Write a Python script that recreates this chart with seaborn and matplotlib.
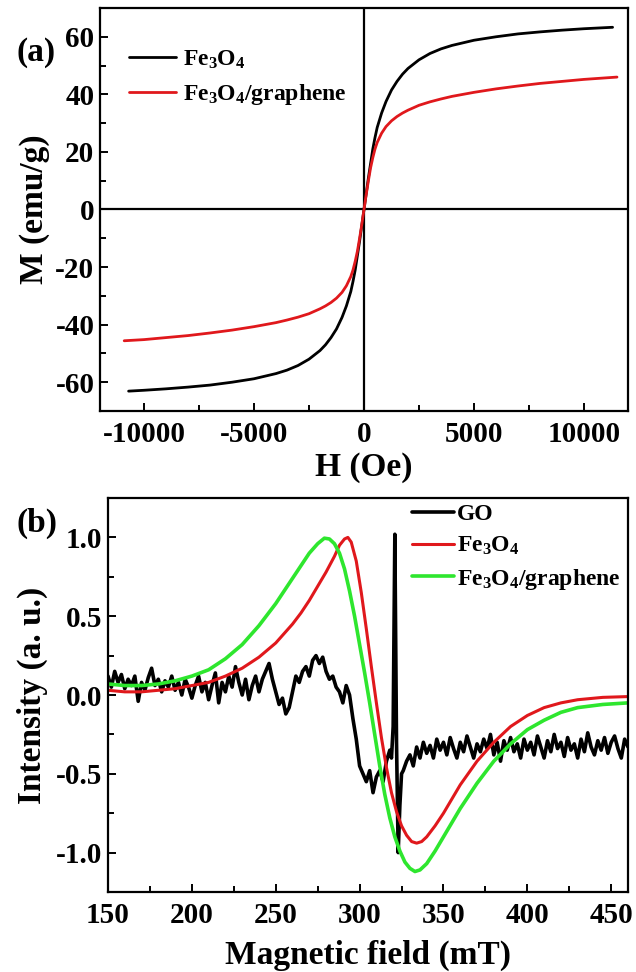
import numpy as np
import pandas as pd
import matplotlib
matplotlib.use("Agg")
import matplotlib.pyplot as plt
from matplotlib.ticker import MultipleLocator
import seaborn as sns

# ---------------- data: panel (a) hysteresis ----------------
h_fe3o4 = [-10700, -10000, -9000, -8000, -7000, -6000, -5000, -4000, -3500, -3000,
           -2500, -2000, -1750, -1500, -1250, -1000, -800, -600, -500, -400, -300,
           -200, -100, 0, 100, 200, 300, 400, 500, 600, 800, 1000, 1250, 1500, 1750,
           2000, 2500, 3000, 3500, 4000, 5000, 6000, 7000, 8000, 9000, 10000, 11300]
m_fe3o4 = [-63.1, -62.8, -62.3, -61.7, -61.0, -60.0, -58.8, -57.0, -55.8, -54.2,
           -52.0, -49.0, -47.0, -44.5, -41.5, -37.5, -33.5, -28.5, -25.0, -21.0, -16.0,
           -11.0, -5.5, 0.0, 5.5, 11.0, 16.0, 21.0, 25.0, 28.5, 33.5, 37.5, 41.5, 44.5,
           47.0, 49.0, 52.0, 54.2, 55.8, 57.0, 58.8, 60.0, 61.0, 61.7, 62.3, 62.8, 63.3]
h_comp = [-10900, -10000, -9000, -8000, -7000, -6000, -5000, -4000, -3500, -3000,
          -2500, -2000, -1750, -1500, -1250, -1000, -800, -600, -500, -400, -300,
          -200, -100, 0, 100, 200, 300, 400, 500, 600, 800, 1000, 1250, 1500, 1750,
          2000, 2500, 3000, 3500, 4000, 5000, 6000, 7000, 8000, 9000, 10000, 11500]
m_comp = [-45.6, -45.2, -44.5, -43.8, -42.9, -41.9, -40.7, -39.3, -38.4, -37.4,
          -36.2, -34.5, -33.5, -32.3, -30.8, -28.8, -26.5, -23.3, -21.0, -18.0, -14.5,
          -10.0, -5.2, 0.0, 5.2, 10.0, 14.5, 18.0, 21.0, 23.3, 26.5, 28.8, 30.8, 32.3,
          33.5, 34.5, 36.2, 37.4, 38.4, 39.3, 40.7, 41.9, 42.9, 43.8, 44.5, 45.2, 46.0]

# ---------------- data: panel (b) EPR ----------------
go_field_a = np.arange(150, 317, 2)
go_int_a = [0.12, 0.05, 0.15, 0.08, 0.13, 0.04, 0.10, 0.06, 0.12, -0.04,
            0.08, 0.03, 0.11, 0.17, 0.06, 0.10, 0.02, 0.09, 0.05, 0.12,
            0.03, 0.08, 0.00, 0.10, 0.05, -0.02, 0.06, 0.12, 0.02, 0.08,
            -0.03, 0.06, 0.14, -0.05, 0.08, 0.02, 0.12, 0.05, 0.18, 0.08,
            0.00, 0.10, -0.03, 0.06, 0.12, 0.02, 0.10, 0.15, 0.20, 0.10,
            0.02, -0.06, -0.02, -0.12, -0.08, 0.02, 0.12, 0.08, 0.15, 0.18,
            0.12, 0.22, 0.25, 0.20, 0.24, 0.15, 0.10, 0.12, 0.05, 0.02,
            -0.05, 0.06, 0.00, -0.15, -0.28, -0.45, -0.50, -0.55, -0.48, -0.62,
            -0.52, -0.48, -0.55, -0.42]
go_field_b = [318, 319, 320, 321, 322, 323, 324, 325]
go_int_b = [-0.35, -0.40, -0.20, 1.02, -0.30, -1.00, -0.70, -0.50]
go_field_c = np.arange(326, 461, 2)
go_int_c = [-0.48, -0.42, -0.38, -0.45, -0.33, -0.40, -0.30, -0.37,
            -0.32, -0.40, -0.28, -0.35, -0.30, -0.38, -0.27, -0.34, -0.40, -0.30,
            -0.36, -0.26, -0.33, -0.40, -0.31, -0.36, -0.28, -0.34, -0.25, -0.38,
            -0.30, -0.42, -0.29, -0.35, -0.27, -0.36, -0.31, -0.40, -0.28, -0.35,
            -0.30, -0.38, -0.26, -0.33, -0.40, -0.29, -0.36, -0.25, -0.34, -0.30,
            -0.39, -0.27, -0.35, -0.31, -0.40, -0.28, -0.36, -0.24, -0.33, -0.38,
            -0.29, -0.35, -0.27, -0.37, -0.30, -0.26, -0.34, -0.40, -0.28, -0.33]

fe_field = [150, 160, 170, 180, 190, 200, 210, 220, 230, 240, 250, 260, 265, 270, 275,
            280, 285, 288, 291, 293, 295, 298, 301, 304, 307, 310, 313, 316, 319, 322,
            325, 328, 331, 334, 337, 340, 345, 350, 355, 360, 370, 380, 390, 400, 410,
            420, 430, 445, 460]
fe_int = [0.03, 0.02, 0.02, 0.03, 0.04, 0.06, 0.08, 0.12, 0.17, 0.24, 0.33, 0.45, 0.52,
          0.60, 0.69, 0.78, 0.88, 0.95, 0.99, 1.00, 0.97, 0.85, 0.65, 0.42, 0.18, -0.05,
          -0.27, -0.46, -0.62, -0.74, -0.83, -0.89, -0.93, -0.94, -0.93, -0.90, -0.83,
          -0.75, -0.66, -0.57, -0.42, -0.30, -0.20, -0.13, -0.08, -0.05, -0.03, -0.015,
          -0.01]
fg_field = [150, 160, 170, 180, 190, 200, 210, 220, 230, 240, 250, 255, 260, 265, 270,
            275, 279, 282, 285, 288, 291, 294, 297, 300, 303, 306, 309, 312, 315, 318,
            321, 324, 327, 330, 333, 336, 340, 345, 350, 355, 360, 370, 380, 390, 400,
            410, 420, 430, 445, 460]
fg_int = [0.07, 0.06, 0.06, 0.07, 0.09, 0.12, 0.16, 0.23, 0.32, 0.44, 0.58, 0.66, 0.74,
          0.82, 0.90, 0.96, 0.995, 0.99, 0.96, 0.90, 0.80, 0.66, 0.50, 0.32, 0.14, -0.05,
          -0.25, -0.45, -0.63, -0.78, -0.90, -0.99, -1.06, -1.10, -1.12, -1.11, -1.07,
          -0.99, -0.90, -0.81, -0.72, -0.56, -0.42, -0.31, -0.22, -0.16, -0.11, -0.08,
          -0.06, -0.05]

lab_fe = "Fe$_3$O$_4$"
lab_fg = "Fe$_3$O$_4$/graphene"

# ---------------- style ----------------
sns.set_theme(style="ticks")
plt.rcParams["font.family"] = ["Liberation Serif", "DejaVu Serif"]
plt.rcParams["font.weight"] = "bold"
plt.rcParams["mathtext.fontset"] = "custom"
plt.rcParams["mathtext.rm"] = "Liberation Serif:bold"
plt.rcParams["mathtext.it"] = "Liberation Serif:bold:italic"
plt.rcParams["mathtext.bf"] = "Liberation Serif:bold"
plt.rcParams["axes.unicode_minus"] = False
for key in ("text.color", "axes.labelcolor", "xtick.color", "ytick.color",
            "axes.edgecolor"):
    plt.rcParams[key] = "black"
plt.rcParams["axes.linewidth"] = 1.6

W, H = 636, 972
fig = plt.figure(figsize=(W / 100, H / 100), dpi=100)
fig.patch.set_facecolor("white")

def frac(l, t, r, b):
    return [l / W, 1 - b / H, (r - l) / W, (b - t) / H]

ax1 = fig.add_axes(frac(100, 8, 628, 411))
ax2 = fig.add_axes(frac(108, 498, 628, 892))

RED = "#e0181c"
GREEN = "#2ee62e"

# panel (a)
df_a1 = pd.DataFrame({"H": h_fe3o4, "M": m_fe3o4})
df_a2 = pd.DataFrame({"H": h_comp, "M": m_comp})
sns.lineplot(data=df_a1, x="H", y="M", ax=ax1, color="black", lw=2.0,
             sort=False, estimator=None, label=lab_fe)
sns.lineplot(data=df_a2, x="H", y="M", ax=ax1, color=RED, lw=2.0,
             sort=False, estimator=None, label=lab_fg)
ax1.axhline(0, color="black", lw=1.6, zorder=0)
ax1.axvline(0, color="black", lw=1.6, zorder=0)
ax1.set_xlim(-12000, 12000)
ax1.set_ylim(-70, 70)
ax1.xaxis.set_major_locator(MultipleLocator(5000))
ax1.xaxis.set_minor_locator(MultipleLocator(2500))
ax1.yaxis.set_major_locator(MultipleLocator(20))
ax1.yaxis.set_minor_locator(MultipleLocator(10))
ax1.set_xlabel("H (Oe)", fontsize=24, fontweight="bold", labelpad=3)
ax1.set_ylabel("M (emu/g)", fontsize=24, fontweight="bold", labelpad=4)

# panel (b)
go_field = np.concatenate([go_field_a, go_field_b, go_field_c])
go_int = np.concatenate([go_int_a, go_int_b, go_int_c])
df_go = pd.DataFrame({"B": go_field, "I": go_int})
df_fe = pd.DataFrame({"B": fe_field, "I": fe_int})
df_fg = pd.DataFrame({"B": fg_field, "I": fg_int})
sns.lineplot(data=df_go, x="B", y="I", ax=ax2, color="black", lw=2.6,
             sort=False, estimator=None, label="GO")
sns.lineplot(data=df_fe, x="B", y="I", ax=ax2, color=RED, lw=2.2,
             sort=False, estimator=None, label=lab_fe)
sns.lineplot(data=df_fg, x="B", y="I", ax=ax2, color=GREEN, lw=2.6,
             sort=False, estimator=None, label=lab_fg)
ax2.set_xlim(150, 460)
ax2.set_ylim(-1.25, 1.25)
ax2.xaxis.set_major_locator(MultipleLocator(50))
ax2.xaxis.set_minor_locator(MultipleLocator(25))
ax2.yaxis.set_major_locator(MultipleLocator(0.5))
ax2.yaxis.set_minor_locator(MultipleLocator(0.25))
ax2.set_xlabel("Magnetic field (mT)", fontsize=24, fontweight="bold", labelpad=8)
ax2.set_ylabel("Intensity (a. u.)", fontsize=24, fontweight="bold", labelpad=6)

for ax in (ax1, ax2):
    for s in ax.spines.values():
        s.set_visible(True)
        s.set_linewidth(1.6)
        s.set_color("black")
    ax.tick_params(which="both", direction="in", top=False, right=False,
                   labelsize=21, width=1.4, color="black", labelcolor="black")
    ax.tick_params(axis="x", which="both", pad=7)
    ax.tick_params(axis="y", which="both", pad=4)
    ax.tick_params(which="major", length=6)
    ax.tick_params(which="minor", length=4)
    for t in ax.get_xticklabels() + ax.get_yticklabels():
        t.set_fontweight("bold")

ax1.legend(loc="upper left", bbox_to_anchor=(0.055, 0.9), frameon=False,
           fontsize=17, handlelength=2.0, handletextpad=0.3, labelspacing=0.5,
           borderaxespad=0, borderpad=0)
ax2.legend(loc="upper left", bbox_to_anchor=(0.585, 0.985), frameon=False,
           fontsize=17, handlelength=1.75, handletextpad=0.15, labelspacing=0.4,
           borderaxespad=0, borderpad=0)

fig.text(17 / W, 1 - 53 / H, "(a)", fontsize=24, fontweight="bold", va="center", ha="left")
fig.text(17 / W, 1 - 523 / H, "(b)", fontsize=24, fontweight="bold", va="center", ha="left")

fig.savefig("out.png", dpi=100, facecolor="white")
